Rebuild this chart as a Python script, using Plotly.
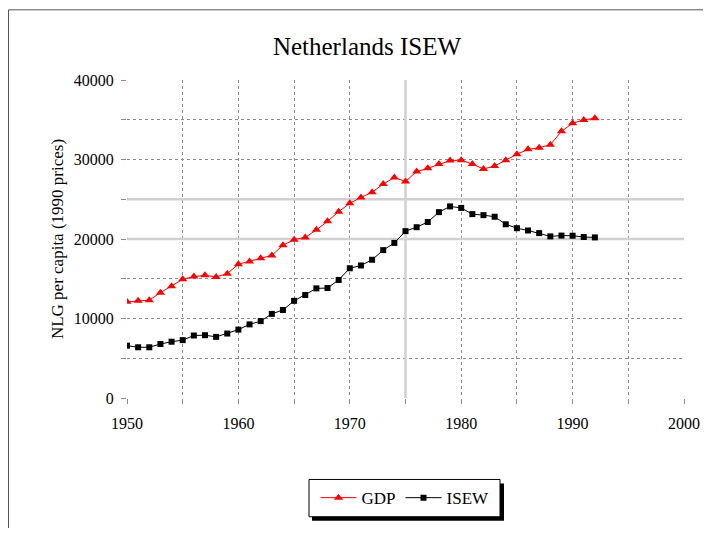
import plotly.graph_objects as go

years = list(range(1950, 1993))
gdp = [12100, 12220, 12300, 13250, 14070, 14940, 15270, 15430, 15230, 15640,
       16830, 17160, 17570, 17940, 19220, 19920, 20200, 21150, 22220, 23440,
       24490, 25230, 25880, 26910, 27740, 27240, 28480, 28890, 29420, 29860,
       29920, 29420, 28810, 29180, 29920, 30660, 31280, 31480, 31850, 33540,
       34570, 34980, 35190]
isew = [6580, 6380, 6380, 6790, 7080, 7280, 7860, 7900, 7690, 8110,
        8600, 9260, 9670, 10580, 11070, 12220, 12960, 13790, 13830, 14850,
        16320, 16670, 17390, 18600, 19510, 20990, 21480, 22140, 23380, 24100,
        23910, 23130, 23000, 22800, 21850, 21360, 21070, 20740, 20330, 20430,
        20410, 20250, 20200]

x_ticks = [1950, 1960, 1970, 1980, 1990, 2000]
y_ticks = [0, 10000, 20000, 30000, 40000]
x_range = [1950, 2000]
y_range = [0, 40000]
solid_x = [1975]
solid_y = [20000, 25000]

FONT = "Liberation Serif, Times New Roman, serif"

# page body has an 8px margin; figure coordinates are page coordinates minus 8
OFF = 8
W, H = 711 - 2 * OFF, 536 - 2 * OFF
L = 127 - OFF
T = 80 - OFF
R = W - (684 - OFF)
B = H - (404 - OFF)
pw, ph = W - L - R, H - T - B

def px(xp):
    return (xp - OFF - L) / pw

def py(yp):
    return (H - B - (yp - OFF)) / ph

fig = go.Figure()
# light solid grid lines (under the data)
for xv in solid_x:
    fig.add_trace(go.Scatter(x=[xv, xv], y=y_range, mode="lines", showlegend=False,
                             hoverinfo="skip", line=dict(color="#d0d0d0", width=2.5)))
for yv in solid_y:
    fig.add_trace(go.Scatter(x=x_range, y=[yv, yv], mode="lines", showlegend=False,
                             hoverinfo="skip", line=dict(color="#d0d0d0", width=2.5)))

fig.add_trace(go.Scatter(x=years, y=gdp, name="GDP", mode="lines+markers",
                         line=dict(color="#ff0000", width=1),
                         marker=dict(symbol="triangle-up", size=8, color="#ff0000")))
fig.add_trace(go.Scatter(x=years, y=isew, name="ISEW", mode="lines+markers",
                         line=dict(color="#000000", width=1),
                         marker=dict(symbol="square", size=6, color="#000000")))

shapes = []
# outer frame (left and top edges visible)
shapes.append(dict(type="rect", xref="paper", yref="paper",
                   x0=px(8.5), x1=px(800), y0=py(700), y1=py(8.5),
                   line=dict(color="#555555", width=1), layer="below"))
# legend shadow and box
shapes.append(dict(type="rect", xref="paper", yref="paper",
                   x0=px(312), x1=px(504), y0=py(529), y1=py(491),
                   fillcolor="#000000", line=dict(width=0), layer="above"))
shapes.append(dict(type="rect", xref="paper", yref="paper",
                   x0=px(309), x1=px(500), y0=py(525), y1=py(487),
                   fillcolor="#ffffff", line=dict(color="#000000", width=1), layer="above"))

fig.update_layout(
    width=W, height=H,
    margin=dict(l=L, r=R, t=T, b=B),
    paper_bgcolor="white", plot_bgcolor="white",
    font=dict(family=FONT, color="#000000", size=15),
    title=dict(text="Netherlands ISEW", x=(367 - OFF) / W, xanchor="center",
               y=1 - (46 - OFF) / H, yanchor="middle",
               font=dict(family=FONT, size=25, color="#000000")),
    xaxis=dict(range=x_range, tickvals=x_ticks, ticktext=[str(v) for v in x_ticks],
               showgrid=True, gridcolor="#8c8c8c", griddash="dot", gridwidth=1,
               minor=dict(dtick=5, tick0=1950, showgrid=True, gridcolor="#8c8c8c",
                          griddash="dot", ticks="outside", ticklen=5, tickcolor="#8c8c8c"),
               ticks="outside", ticklen=5, tickcolor="#8c8c8c",
               showline=False, zeroline=False, automargin=False,
               tickfont=dict(size=16, family=FONT), ticklabelstandoff=6),
    yaxis=dict(range=y_range, tickvals=y_ticks, ticktext=[str(v) for v in y_ticks],
               showgrid=True, gridcolor="#8c8c8c", griddash="dot", gridwidth=1,
               minor=dict(dtick=5000, tick0=0, showgrid=True, gridcolor="#8c8c8c",
                          griddash="dot", ticks="outside", ticklen=5, tickcolor="#8c8c8c"),
               ticks="outside", ticklen=5, tickcolor="#8c8c8c",
               showline=False, zeroline=False, automargin=False,
               tickfont=dict(size=16, family=FONT), ticklabelstandoff=4,
               title=dict(text="NLG per capita (1990 prices)", standoff=5,
                          font=dict(size=17, family=FONT))),
    legend=dict(orientation="h", x=px(405), xanchor="center", y=py(506), yanchor="middle",
                bgcolor="rgba(0,0,0,0)", borderwidth=0,
                font=dict(size=17, family=FONT), itemwidth=36),
    shapes=shapes,
    showlegend=True,
)

fig.write_html("out.html")
